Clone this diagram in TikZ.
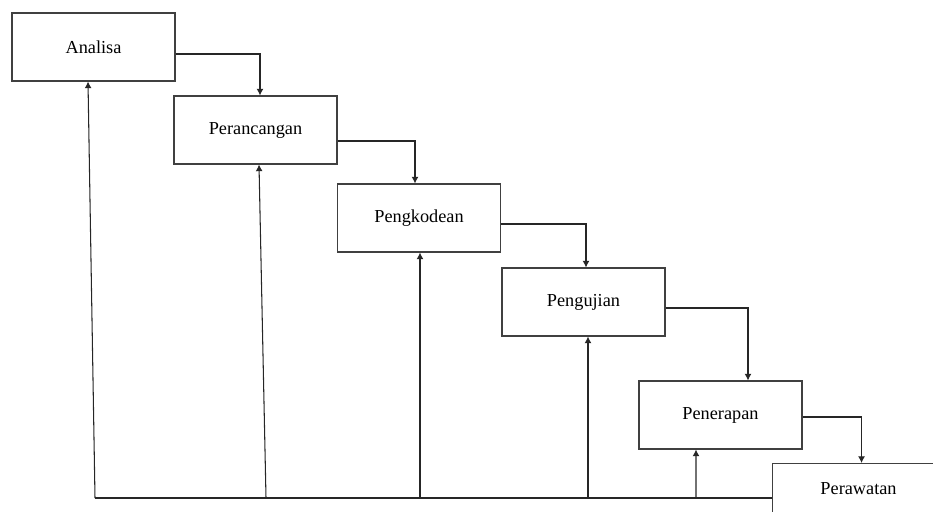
\documentclass[tikz,border=0pt]{standalone}
\usepackage{fontspec}
\setmainfont{Liberation Serif}
\usetikzlibrary{arrows.meta,shadows}

\begin{document}
\begin{tikzpicture}[x=0.03cm,y=-0.03cm,
    tahap/.style={draw=black!75, fill=white, line width=0.9pt, minimum width=4.89cm, minimum height=2.04cm,
        font=\fontsize{15.6}{18}\selectfont, drop shadow={opacity=0.3,shadow xshift=0.8pt,shadow yshift=-1.2pt}},
    alur/.style={draw=black!85, line width=0.9pt, -{Latex[length=2mm,width=2.1mm]}},
    garis/.style={draw=black!85, line width=0.9pt}]
            \useasboundingbox (0,0) rectangle (933,512);
            \node[tahap] (analisa) at (93.5,47) {Analisa};
            \node[tahap] (perancangan) at (255.5,130) {Perancangan};
            \node[tahap] (pengkodean) at (419,218) {Pengkodean};
            \node[tahap] (pengujian) at (583.5,302) {Pengujian};
            \node[tahap] (penerapan) at (720.5,415) {Penerapan};
            \node[tahap, anchor=north west, minimum width=5.16cm, minimum height=1.5cm] (perawatan) at (772,463) {Perawatan};
            % alur ke bawah
            \draw[alur] ([yshift=-0.21cm]analisa.east) -| ([xshift=0.135cm]perancangan.north);
            \draw[alur] ([yshift=-0.33cm]perancangan.east) -| ([xshift=-0.12cm]pengkodean.north);
            \draw[alur] ([yshift=-0.18cm]pengkodean.east) -| ([xshift=0.075cm]pengujian.north);
            \draw[alur] ([yshift=-0.18cm]pengujian.east) -| ([xshift=0.825cm]penerapan.north);
            \draw[alur] ([yshift=-0.06cm]penerapan.east) -| ([xshift=0.09cm]perawatan.north);
            % umpan balik
            \coordinate (u1) at (95,498);
            \coordinate (u2) at (266,498);
            \coordinate (u3) at (420,498);
            \coordinate (u4) at (588,498);
            \coordinate (u5) at (696,498);
            \draw[garis] (u1) -- (u1 -| perawatan.west);
            \draw[alur] (u1) -- ([xshift=-0.165cm]analisa.south);
            \draw[alur] (u2) -- ([xshift=0.105cm]perancangan.south);
            \draw[alur] (u3) -- ([xshift=0.03cm]pengkodean.south);
            \draw[alur] (u4) -- ([xshift=0.135cm]pengujian.south);
            \draw[alur] (u5) -- ([xshift=-0.735cm]penerapan.south);
        \end{tikzpicture}
\end{document}
